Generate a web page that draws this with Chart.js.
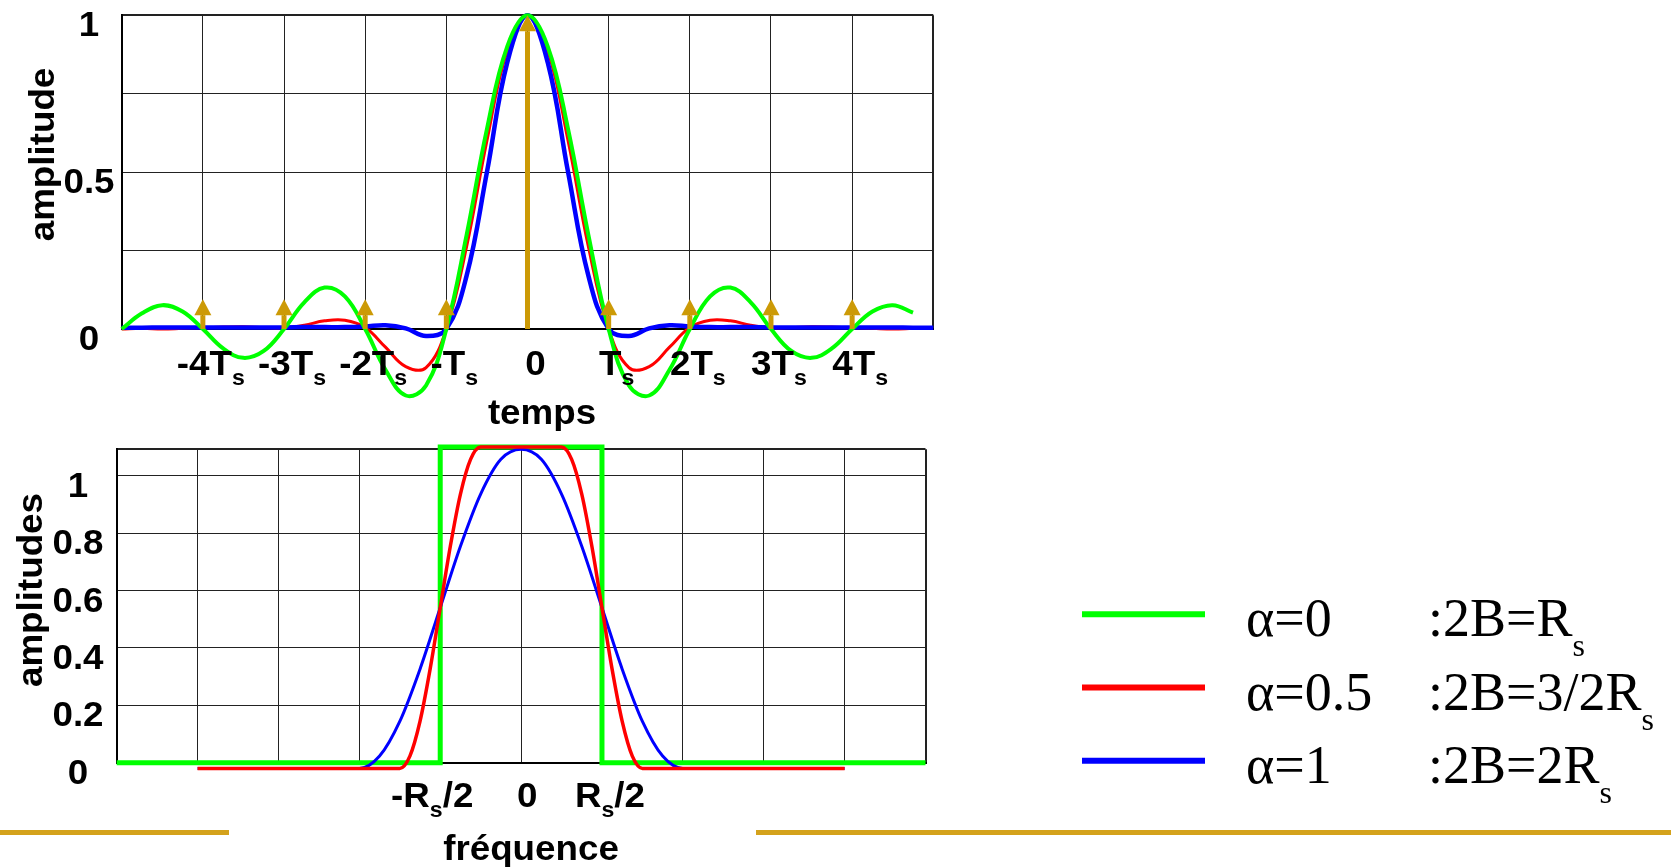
<!DOCTYPE html>
<html>
<head>
  <meta charset="utf-8">
  <title>Impulsion en cosinus surélevé</title>
  <script src="https://cdn.jsdelivr.net/npm/chart.js"></script>
  <style>
    body {
      margin: 0;
      background: #fff;
      width: 1671px;
      height: 868px;
      overflow: hidden;
      position: relative;
    }
    canvas { position: absolute; left: 0; }
    #topChart { top: 0; }
    #bottomChart { top: 430px; }
    .rule { position: absolute; top: 830px; height: 5px; background: #d4a21c; }
  </style>
</head>
<body>
  <canvas id="topChart" width="960" height="440"></canvas>
  <canvas id="bottomChart" width="1671" height="438"></canvas>
  <div class="rule" style="left:0;width:229px"></div>
  <div class="rule" style="left:756px;width:915px"></div>
  <script>
    // ---- temporal response, t in units of Ts ----
    const tVals = [-5, -4.75, -4.5, -4.25, -4, -3.75, -3.5, -3.25, -3, -2.75, -2.5, -2.25, -2, -1.75, -1.5, -1.25, -1, -0.75, -0.5, -0.25,
      0, 0.25, 0.5, 0.75, 1, 1.25, 1.5, 1.75, 2, 2.25, 2.5, 2.75, 3, 3.25, 3.5, 3.75, 4, 4.25, 4.5, 4.75, 5];
    const hAlpha0 = [0, 0.050, 0.076, 0.056, 0, -0.062, -0.092, -0.070, 0, 0.085, 0.132, 0.104, 0, -0.130, -0.212, -0.180, 0, 0.300, 0.637, 0.900,
      1, 0.900, 0.637, 0.300, 0, -0.180, -0.212, -0.130, 0, 0.104, 0.132, 0.085, 0, -0.070, -0.092, -0.062, 0, 0.056, 0.076, 0.052, null];
    const hAlpha05 = [0, 0.002, 0, 0.002, 0.004, 0.006, 0.007, 0.005, 0.004, 0.012, 0.026, 0.028, 0.005, -0.058, -0.120, -0.123, 0, 0.263, 0.600, 0.887,
      1, 0.887, 0.600, 0.263, 0, -0.123, -0.120, -0.058, 0.005, 0.028, 0.026, 0.012, 0.004, 0.005, 0.007, 0.006, 0.004, 0.002, 0, 0.002, null];
    const hAlpha1 = [0.004, 0.004, 0.005, 0.005, 0.005, 0.005, 0.005, 0.005, 0.005, 0.006, 0.006, 0.006, 0.008, 0.012, 0.002, -0.022, 0, 0.170, 0.500, 0.849,
      1, 0.849, 0.500, 0.170, 0, -0.022, 0.002, 0.012, 0.008, 0.006, 0.006, 0.006, 0.005, 0.005, 0.005, 0.005, 0.005, 0.005, 0.005, 0.004, 0.004];

    // sampling instants (arrows)
    const arrowT = [-4, -3, -2, -1, 0, 1, 2, 3, 4];
    const arrowH = [0.095, 0.095, 0.095, 0.095, 1, 0.095, 0.095, 0.095, 0.095];

    const topGridX = [-5, -4, -3, -2, -1, 0, 1, 2, 3, 4, 5];
    const topGridY = [0, 0.25, 0.5, 0.75, 1];
    const topTickX = [-4, -3, -2, -1, 0, 1, 2, 3, 4];
    const topTickXText = ['-4T_s', '-3T_s', '-2T_s', '-T_s', '0', 'T_s', '2T_s', '3T_s', '4T_s'];
    const topTickY = [0, 0.5, 1];
    const topTickYText = ['0', '0.5', '1'];

    // ---- spectrum, f in units of Rs/2 ----
    const fStepX = [-5, -1, -1, 1, 1, 5];
    const fStepY = [0, 0, 1.1, 1.1, 0, 0];
    const fHalfX = [-4, -3, -2, -1.5, -1.375, -1.25, -1.125, -1, -0.875, -0.75, -0.625, -0.5, 0, 0.5, 0.625, 0.75, 0.875, 1, 1.125, 1.25, 1.375, 1.5, 2, 3, 4];
    const fHalfY = [-0.02, -0.02, -0.02, -0.02, 0.023, 0.144, 0.326, 0.54, 0.754, 0.936, 1.057, 1.1, 1.1, 1.1, 1.057, 0.936, 0.754, 0.54, 0.326, 0.144, 0.023, -0.02, -0.02, -0.02, -0.02];
    const fFullX = [-4, -3, -2, -1.75, -1.5, -1.25, -1, -0.75, -0.5, -0.25, 0, 0.25, 0.5, 0.75, 1, 1.25, 1.5, 1.75, 2, 3, 4];
    const fFullY = [-0.02, -0.02, -0.02, 0.023, 0.144, 0.326, 0.54, 0.754, 0.936, 1.057, 1.092, 1.057, 0.936, 0.754, 0.54, 0.326, 0.144, 0.023, -0.02, -0.02, -0.02];

    const botGridX = [-5, -4, -3, -2, -1, 0, 1, 2, 3, 4, 5];
    const botGridY = [0, 0.2, 0.4, 0.6, 0.8, 1];
    const botTickX = [-1, 0, 1];
    const botTickXText = ['-R_s/2', '0', 'R_s/2'];
    const botTickYText = ['0', '0.2', '0.4', '0.6', '0.8', '1'];

    const legendNote = [':2B=R_s', ':2B=3/2R_s', ':2B=2R_s'];

    const GREEN = '#00ff00', RED = '#ff0000', BLUE = '#0000ff', GOLD = '#cc9a06';
    const SANS = 'bold 35px "Liberation Sans", Arial, sans-serif';
    const SANS_SUB = 'bold 22px "Liberation Sans", Arial, sans-serif';

    // draw text with a horizontal stretch (the figure uses a slightly wide font)
    function drawText(ctx, str, x, y, font, align, sx) {
      ctx.save();
      ctx.font = font;
      ctx.translate(x, y);
      ctx.scale(sx, 1);
      ctx.textAlign = align;
      ctx.textBaseline = 'alphabetic';
      ctx.fillText(str, 0, 0);
      ctx.restore();
    }

    // 'T_s' -> [['T', false], ['s', true]]
    function splitSub(label) {
      const parts = [];
      let buf = '';
      for (let i = 0; i < label.length; i++) {
        if (label[i] === '_') {
          if (buf) parts.push([buf, false]);
          parts.push([label[i + 1], true]);
          buf = '';
          i++;
        } else {
          buf += label[i];
        }
      }
      if (buf) parts.push([buf, false]);
      return parts;
    }

    function drawSubText(ctx, label, x0, base, font, subFont, drop, sx, align) {
      const parts = splitSub(label);
      let w = 0;
      parts.forEach(p => { ctx.font = p[1] ? subFont : font; w += ctx.measureText(p[0]).width * sx; });
      let x = align === 'center' ? x0 - w / 2 : x0;
      parts.forEach(p => {
        const f = p[1] ? subFont : font;
        ctx.font = f;
        const pw = ctx.measureText(p[0]).width * sx;
        drawText(ctx, p[0], x, p[1] ? base + drop : base, f, 'left', sx);
        x += pw;
      });
    }

    // tick labels and axis titles, placed through the chart scales
    function makeAxisText(cfg) {
      return {
        id: 'axisText',
        afterDraw(chart) {
          const {ctx, scales: {x, y}} = chart;
          ctx.save();
          ctx.fillStyle = '#000';
          cfg.yVals.forEach((v, i) => {
            drawText(ctx, cfg.yText[i], cfg.yLabelX, y.getPixelForValue(v) + cfg.yDrop, SANS, 'center', cfg.stretch);
          });
          cfg.xVals.forEach((v, i) => {
            drawSubText(ctx, cfg.xText[i], x.getPixelForValue(v) + cfg.xShift[i], cfg.xBase, SANS, SANS_SUB, 10, cfg.stretch, 'center');
          });
          drawText(ctx, cfg.xTitle, cfg.xTitleX, cfg.xTitleY, SANS, 'center', cfg.stretch);
          ctx.save();
          ctx.translate(cfg.yTitleX, cfg.yTitleY);
          ctx.rotate(-Math.PI / 2);
          drawText(ctx, cfg.yTitle, 0, 0, SANS, 'center', cfg.stretch);
          ctx.restore();
          ctx.restore();
        }
      };
    }

    const sampleArrows = {
      id: 'sampleArrows',
      afterDatasetsDraw(chart) {
        const {ctx, scales: {x, y}} = chart;
        const y0 = y.getPixelForValue(0);
        const head = 16, headW = 17;
        ctx.save();
        ctx.fillStyle = GOLD;
        ctx.strokeStyle = GOLD;
        ctx.lineWidth = 5;
        arrowT.forEach((t, i) => {
          const px = x.getPixelForValue(t);
          const tip = y.getPixelForValue(arrowH[i]);
          ctx.beginPath();
          ctx.moveTo(px, y0);
          ctx.lineTo(px, tip + head);
          ctx.stroke();
          ctx.beginPath();
          ctx.moveTo(px, tip);
          ctx.lineTo(px - headW / 2, tip + head);
          ctx.lineTo(px + headW / 2, tip + head);
          ctx.closePath();
          ctx.fill();
        });
        ctx.restore();
      }
    };

    const alphaLegend = {
      id: 'alphaLegend',
      afterDraw(chart) {
        const ctx = chart.ctx;
        const serif = '54px "Liberation Serif", "Times New Roman", serif';
        const serifSub = '32px "Liberation Serif", "Times New Roman", serif';
        ctx.save();
        chart.data.datasets.forEach((ds, i) => {
          const ly = 184.3 + i * 73.2;
          ctx.strokeStyle = ds.borderColor;
          ctx.lineWidth = 6;
          ctx.beginPath();
          ctx.moveTo(1082, ly);
          ctx.lineTo(1205, ly);
          ctx.stroke();
          ctx.fillStyle = '#000';
          drawText(ctx, ds.label, 1246, ly + 22, serif, 'left', 1);
          drawSubText(ctx, legendNote[i], 1428, ly + 22, serif, serifSub, 20, 1, 'left');
        });
        ctx.restore();
      }
    };

    function pts(xs, ys) {
      return xs.map((v, i) => ({x: v, y: ys[i]}));
    }

    function gridScale(min, max, ticks, size, horizontal) {
      return {
        type: 'linear',
        min: min,
        max: max,
        afterBuildTicks: s => {
          const vals = ticks.slice();
          if (vals[vals.length - 1] !== max) vals.push(max);
          s.ticks = vals.map(v => ({value: v}));
        },
        afterFit: s => {
          if (horizontal) s.height = size; else s.width = size;
        },
        ticks: {display: false},
        grid: {
          color: '#222',
          lineWidth: c => (c.tick && (c.tick.value === max || c.tick.value === min)) ? 2 : 1,
          drawTicks: false
        },
        border: {color: '#000', width: 2}
      };
    }

    // ---- top chart: temporal response ----
    new Chart(document.getElementById('topChart'), {
      type: 'line',
      data: {
        datasets: [
          {label: 'α=0', data: pts(tVals, hAlpha0), borderColor: GREEN, borderWidth: 4, order: 0},
          {label: 'α=0.5', data: pts(tVals, hAlpha05), borderColor: RED, borderWidth: 3, order: 2},
          {label: 'α=1', data: pts(tVals, hAlpha1), borderColor: BLUE, borderWidth: 4.5, order: 1}
        ]
      },
      options: {
        responsive: false,
        animation: false,
        layout: {padding: {left: 0, top: 15.3, right: 26.7, bottom: 0}},
        elements: {point: {radius: 0}, line: {tension: 0.4}},
        datasets: {line: {clip: false, spanGaps: false}},
        plugins: {legend: {display: false}, tooltip: {enabled: false}},
        scales: {
          x: gridScale(-5, 5, topGridX, 111, true),
          y: gridScale(0, 1, topGridY, 121.7, false)
        }
      },
      plugins: [sampleArrows, makeAxisText({
        stretch: 1.05,
        yVals: topTickY, yText: topTickYText, yLabelX: 89, yDrop: 21,
        xVals: topTickX, xText: topTickXText, xShift: [8, 8, 8, 8, 8, 8, 8, 8, 8], xBase: 375,
        xTitle: 'temps', xTitleX: 542, xTitleY: 423.5,
        yTitle: 'amplitude', yTitleX: 54, yTitleY: 154.5
      })]
    });

    // ---- bottom chart: spectrum ----
    new Chart(document.getElementById('bottomChart'), {
      type: 'line',
      data: {
        datasets: [
          {label: 'α=0', data: pts(fStepX, fStepY), borderColor: GREEN, borderWidth: 5, tension: 0, order: 2},
          {label: 'α=0.5', data: pts(fHalfX, fHalfY), borderColor: RED, borderWidth: 3.5, cubicInterpolationMode: 'monotone', order: 0},
          {label: 'α=1', data: pts(fFullX, fFullY), borderColor: BLUE, borderWidth: 3, cubicInterpolationMode: 'monotone', order: 1}
        ]
      },
      options: {
        responsive: false,
        animation: false,
        layout: {padding: {left: 0, top: 19.3, right: 745.5, bottom: 0}},
        elements: {point: {radius: 0}},
        datasets: {line: {clip: false}},
        plugins: {legend: {display: false}, tooltip: {enabled: false}},
        scales: {
          x: gridScale(-5, 5, botGridX, 105.3, true),
          y: gridScale(0, 1.092, botGridY, 116.7, false)
        }
      },
      plugins: [alphaLegend, makeAxisText({
        stretch: 1.05,
        yVals: botGridY, yText: botTickYText, yLabelX: 78, yDrop: 21,
        xVals: botTickX, xText: botTickXText, xShift: [-8, 6, 8], xBase: 377,
        xTitle: 'fréquence', xTitleX: 531, xTitleY: 430,
        yTitle: 'amplitudes', yTitleX: 41.5, yTitleY: 160
      })]
    });
  </script>
</body>
</html>
